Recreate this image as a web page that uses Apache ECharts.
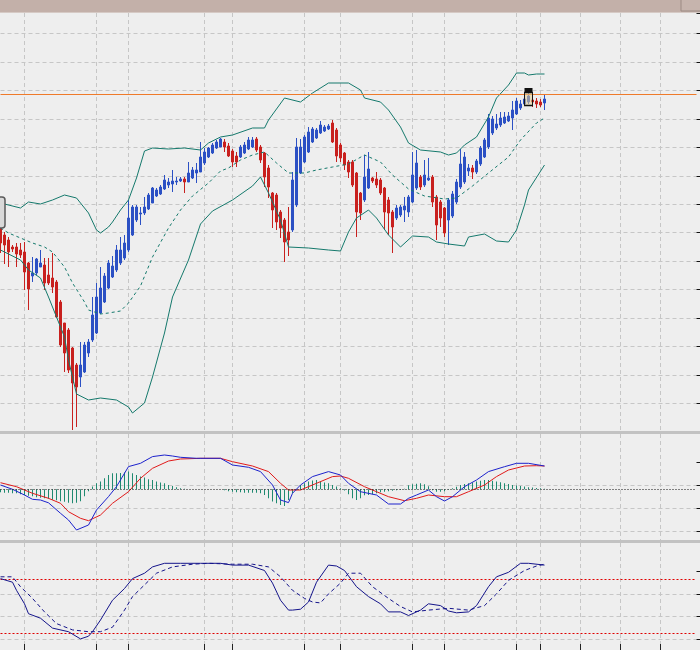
<!DOCTYPE html>
<html><head><meta charset="utf-8">
<script src="https://cdn.jsdelivr.net/npm/echarts@6/dist/echarts.min.js"></script>
<style>html,body{margin:0;padding:0;background:#eeeeee}#c{width:700px;height:650px}</style>
</head><body><div id="c"></div>
<script>
// ---- price candles (137 bars) ----
const openP = [204,197,192,185,185,182,180,169,156,159,
165,167,157,154,150,130,109,102,84,67,
55,60,79,92,99,119,130,144,155,162,
169,174,182,197,212,218,219,223,229,236,
238,243,247,248,250,251,253,250,254,259,
260,269,275,279,284,285,290,286,281,276,
275,279,283,285,293,285,279,264,239,237,
220,212,200,202,227,259,270,280,290,294,
299,301,303,309,302,287,279,270,270,259,
239,232,244,254,253,252,244,232,220,214,
217,222,220,230,244,255,247,252,255,235,
230,224,212,216,230,245,250,261,264,260,
268,275,285,299,304,307,309,311,314,318,
324,328,330,332,331,330,329];
const highP = [208,200,195,187,189,189,190,170,175,174,
182,174,174,179,152,132,109,104,85,69,
90,90,93,135,149,165,159,172,176,187,
195,197,232,227,227,225,235,239,245,244,
247,257,254,262,255,255,255,270,265,269,
290,284,285,289,292,294,293,289,283,280,
287,290,295,295,295,287,280,267,240,239,
222,214,225,260,294,293,297,305,305,304,
311,307,308,312,304,289,280,272,272,260,
240,277,280,255,260,254,245,235,222,227,
227,235,237,280,282,257,272,274,257,237,
232,225,234,241,253,283,280,268,267,273,
286,294,318,316,318,320,320,320,331,334,
332,337,342,337,334,333,338];
const lowP = [179,168,165,180,165,174,142,122,150,157,
165,142,147,139,114,85,60,59,2,5,
45,59,75,90,98,118,129,143,154,160,
167,172,180,196,210,207,217,222,229,235,
237,242,244,240,247,250,239,250,253,249,
260,267,274,278,283,285,280,275,265,265,
274,278,282,284,280,269,245,234,204,202,
194,170,176,200,225,258,269,279,289,293,
298,300,302,289,270,270,262,254,245,195,
212,230,243,249,244,237,202,197,179,212,
215,210,215,229,242,242,245,251,225,192,
205,195,187,214,228,243,248,256,253,258,
266,274,283,297,302,305,308,310,302,317,
322,327,328,325,324,325,322];
const closeP = [189,187,180,183,178,177,160,143,159,173,
169,149,149,145,115,87,79,62,49,45,
67,87,90,117,135,144,156,169,166,182,
182,189,214,225,225,219,225,237,244,242,
245,252,250,251,251,253,250,259,262,262,
275,280,284,287,290,293,285,276,270,270,
285,287,292,292,282,272,255,245,222,210,
204,190,192,252,285,285,295,300,303,302,
307,305,306,290,276,274,267,260,247,220,
219,255,263,251,247,239,220,219,205,224,
225,226,235,257,269,245,257,254,230,207,
214,199,232,238,250,268,275,264,260,271,
284,292,314,313,308,314,315,316,322,331,
328,333,336,330,328,327,333];

// ---- Bollinger bands, sampled [bar, value] ----
const upperBand = [[0,229],[5,224],[7,230],[10,228],[13,232],[16,237],[19,234],[22,219],[24,202],[25,199],[27,205],[28,210],[30,222],[32,232],[34,254],[36,281],[38,284],[42,283],[46,284],[50,282],[52,289],[55,295],[58,297],[63,304],[66,304],[67,312],[71,334],[75,330],[78,339],[82,349],[87,349],[90,342],[91,334],[95,330],[97,322],[100,305],[102,289],[105,282],[110,280],[112,277],[114,279],[116,287],[119,295],[122,315],[124,334],[127,347],[129,359],[131,359],[132,357],[134,358],[136,358]];
const middleBand = [[0,204],[2,199],[5,194],[8,189],[11,185],[13,180],[16,165],[18,149],[21,130],[22,122],[25,118],[27,119],[30,121],[32,129],[35,146],[38,175],[42,204],[45,222],[48,236],[52,249],[55,261],[57,264],[60,272],[63,277],[66,280],[69,269],[72,259],[76,259],[79,262],[83,265],[87,268],[91,277],[95,270],[98,257],[102,243],[106,236],[111,233],[114,234],[118,246],[122,259],[127,275],[130,292],[134,309],[136,314]];
const lowerBand = [[0,182],[5,172],[7,162],[10,154],[12,135],[14,115],[16,95],[17,72],[19,38],[22,32],[25,34],[29,32],[32,25],[33,19],[36,29],[38,55],[41,99],[43,135],[47,172],[50,208],[53,221],[58,232],[63,246],[65,255],[67,239],[70,212],[72,185],[77,184],[82,182],[85,181],[87,200],[89,214],[92,222],[94,214],[97,197],[100,185],[103,196],[107,195],[109,190],[112,188],[116,186],[117,195],[121,198],[124,191],[127,190],[129,202],[131,227],[132,242],[136,267]];
const bidPrice = 338;

// ---- MACD ----
const macdMain = [[0,4.3],[3,0],[6,-5.7],[8,-10],[10,-10.7],[12,-13.5],[15,-24],[17,-30.7],[19,-40.7],[22,-35.7],[24,-20.7],[27,-7.3],[29,2.7],[32,22.7],[35,26],[38,32.7],[41,34.3],[43,33.3],[45,32],[49,31],[55,31],[58,24.3],[62,22],[65,17.7],[68,4.3],[70,-10.7],[72,-13.3],[73,-4],[75,4.3],[78,12.7],[82,17.7],[85,14.3],[87,6],[90,-2.4],[94,-5.7],[97,-14.7],[100,-14.7],[102,-9],[104,-5.7],[107,-0.7],[109,-7.4],[111,-11.7],[113,-7.4],[116,2.6],[119,9.3],[122,17.7],[126,22.6],[129,26],[132,26],[136,23.3]];
const macdSignal = [[0,6.6],[4,2.6],[8,-4],[12,-9],[15,-14],[17,-22.4],[20,-29],[22,-31.4],[25,-25.7],[28,-14],[32,-2.4],[35,11],[38,21],[42,28.3],[45,30.3],[50,31],[55,31],[58,27.6],[63,23.3],[67,17.7],[70,6],[72,-0.7],[75,-0.7],[79,6],[83,12.7],[85,13.3],[87,11],[91,2.6],[94,-2.4],[97,-7.4],[101,-11.4],[104,-9],[107,-5.7],[111,-7.4],[114,-7.4],[117,-2.4],[121,4.3],[124,12.7],[127,19.3],[131,23.3],[134,23.6],[136,23.3]];
const macdHist = [-3,-3.5,-3.5,-4,-4,-5,-6,-6.5,-7,-8,
-8.5,-9,-9.5,-10.5,-11,-12,-12.5,-13.5,-14,-13.5,
-12,-7,-2,2.7,6,7.7,11,14.3,16,16,
16.3,16.7,17.7,16,14.3,12.7,11.7,10,9.3,7.7,
6.7,6,4.3,3.3,2,1,0.5,0,0,0,
0,0,0,0,0,0,-1,-2,-2.5,-3,
-3,-3.5,-3.5,-3.5,-3.5,-4,-5.7,-9,-12.3,-14,
-15.7,-16.7,-10.7,-4,-1,4.3,6,7.7,8.7,9.3,
7.7,6.7,6,4.3,2.7,1,-1.3,-5,-9,-10.7,
-9,-6,-5.7,-5,-4,-3,-2.4,-2,-1.5,-1,
-0.7,0.5,4,5,5.5,6,5,3,-1,-2.4,
-2.4,-2,-0.5,1,2.5,4.3,5.3,6,6.7,7.7,
8.5,9.3,9.3,8.5,7.7,7,6,5.3,4.3,3.7,
3.3,2.7,2,1.7,1.3,1,0.5];

// ---- Stochastic ----
const stochK = [[0,81],[3,77],[4,68],[6,53],[7,42],[10,37],[13,26],[17,22],[20,14],[22,17],[23,22],[25,35],[28,57],[31,70],[33,81],[36,87],[38,94],[41,98],[45,98],[50,98],[55,98],[58,96],[62,96],[66,90],[68,76],[70,57],[72,46],[73,46],[75,47],[77,55],[79,77],[82,96],[84,95],[86,90],[87,84],[89,72],[92,61],[95,53],[97,44],[100,44],[102,40],[105,46],[107,53],[110,51],[112,45],[114,43],[117,44],[119,51],[122,72],[124,83],[127,88],[130,98],[132,98],[136,96]];
const stochD = [[0,83],[3,83],[5,72],[8,59],[11,44],[14,31],[18,24],[22,22],[25,22],[28,27],[31,46],[33,61],[36,74],[39,87],[43,94],[48,97],[52,98],[58,97],[63,97],[67,94],[70,83],[73,68],[76,59],[78,55],[80,54],[82,64],[85,76],[87,87],[90,87],[93,72],[97,59],[100,50],[103,44],[107,46],[112,48],[117,46],[121,51],[124,64],[127,79],[131,90],[134,95],[136,97]];
const stochLevels = [80, 20];

// ---- time grid (bar indices carrying vertical grid lines) ----
const gridBars = [6,24,32,51,58,76,85,103,111,129,135,145,155,165];
const slotCount = 175;
const markerBar = 132, markerTop = 341.5, markerBox = 333;

const cats = Array.from({length: slotCount}, (_, i) => i);
const gridSet = new Set(gridBars);
const isGrid = (i) => gridSet.has(i);
const dashed = {color:'#c6c6c6', type:[4,3], width:1};
const L = 0.5, R = 3.5;
const blue = '#2b50c4', red = '#c8201e', teal = '#15796c';

function catAxis(gi, extra) {
  return Object.assign({
    type:'category', gridIndex:gi, data:cats, boundaryGap:false,
    axisLine:{show:false, onZero:false}, axisTick:{show:false}, axisLabel:{show:false},
    splitLine:{show:true, interval:(i)=>isGrid(i), lineStyle:dashed}
  }, extra || {});
}
function scaleAxis(gi) {
  return {type:'value', gridIndex:gi, position:'right', min:0, max:4, interval:1,
    axisLine:{show:false, onZero:false}, axisLabel:{show:false},
    axisTick:{show:true, length:4, customValues:[0,1,2,3], lineStyle:{color:'#111'}},
    splitLine:{show:true, showMinLine:true, showMaxLine:false, lineStyle:dashed}};
}
const candleData = openP.map((o, i) => [o, closeP[i], lowP[i], highP[i]]);
const lineS = (name, data, xi, yi, color, type, z) => ({
  name, type:'line', data, xAxisIndex:xi, yAxisIndex:yi, showSymbol:false, symbol:'none',
  lineStyle:{color, width:1, type:type||'solid'}, z:z||3, silent:true
});
const levelSeries = stochLevels.map(v => ({
  name:'level ' + v, type:'line', xAxisIndex:3, yAxisIndex:3, silent:true, z:2,
  showSymbol:false, symbol:'none', itemStyle:{color:'#e00000'},
  lineStyle:{color:'#e00000', width:1, type:[2,2]},
  data:[[0, v], [slotCount - 1, v]]
}));

const chart = echarts.init(document.getElementById('c'), null, {renderer:'canvas'});
chart.setOption({
  animation:false,
  backgroundColor:'#eeeeee',
  grid:[
    {left:L, right:R, top:13, height:419},
    {left:L, right:R, top:434, height:106},
    {left:L, right:R, top:439.8, height:91.5},
    {left:L, right:R, top:543, height:107},
    {left:L, right:R, top:548.6, height:90.7}
  ],
  xAxis:[
    catAxis(0),
    catAxis(1),
    {type:'value', gridIndex:2, min:0, max:1, show:false},
    catAxis(3, {axisTick:{show:true, inside:true, length:6, interval:(i)=>isGrid(i), lineStyle:{color:'#222'}}}),
    {type:'value', gridIndex:4, min:0, max:1, show:false}
  ],
  yAxis:[
    {type:'value', gridIndex:0, position:'right', min:0, max:419, interval:28.47,
      axisLine:{show:false, onZero:false}, axisLabel:{show:false},
      axisTick:{show:true, length:4, lineStyle:{color:'#111'}},
      splitLine:{show:true, showMinLine:false, showMaxLine:false, lineStyle:dashed}},
    {type:'value', gridIndex:1, min:-50.7, max:55.3, show:false, splitLine:{show:false}},
    scaleAxis(2),
    {type:'value', gridIndex:3, min:1.67, max:120.56, show:false, splitLine:{show:false}},
    scaleAxis(4)
  ],
  series:[
    {type:'candlestick', name:'price', data:candleData, xAxisIndex:0, yAxisIndex:0, barWidth:2, z:2,
      itemStyle:{color:blue, color0:red, borderColor:blue, borderColor0:red, borderWidth:1},
      markLine:{silent:true, symbol:['none','none'], label:{show:false},
        lineStyle:{color:'#ef7a2a', width:1, type:'solid'}, data:[{yAxis:bidPrice}]},
      markPoint:{silent:true, label:{show:false}, data:[
        {coord:[markerBar, markerBox], symbol:'rect', symbolSize:[8,13],
          itemStyle:{color:'rgba(226,206,150,0.55)', borderColor:'#111', borderWidth:1.2}},
        {coord:[markerBar, markerTop], symbol:'rect', symbolSize:[8,5], itemStyle:{color:'#111'}}
      ]}},
    lineS('upper', upperBand, 0, 0, teal),
    lineS('middle', middleBand, 0, 0, teal, [3,3]),
    lineS('lower', lowerBand, 0, 0, teal),
    {type:'bar', name:'hist', data:macdHist, xAxisIndex:1, yAxisIndex:1, barWidth:1, silent:true,
      itemStyle:{color:'#1f8a70'},
      markLine:{silent:true, symbol:['none','none'], label:{show:false},
        lineStyle:{color:'#111', width:1, type:[1,2]}, data:[{yAxis:0}]}},
    lineS('signal', macdSignal, 1, 1, '#e01a1a'),
    lineS('macd', macdMain, 1, 1, '#1c22cc', 'solid', 4),
    ...levelSeries,
    lineS('%K', stochK, 3, 3, '#14148a'),
    lineS('%D', stochD, 3, 3, '#14148a', [4,3])
  ],
  graphic:[
    {type:'rect', z:100, shape:{x:0, y:0, width:700, height:13}, style:{fill:'#c3b0a9'}},
    {type:'rect', z:101, shape:{x:0, y:12, width:700, height:1}, style:{fill:'#d6cac5'}},
    {type:'rect', z:102, shape:{x:681, y:-3, width:30, height:14}, style:{fill:'#c6b4ad', stroke:'#9b8a83', lineWidth:1}},
    {type:'rect', z:100, shape:{x:0, y:431, width:700, height:3}, style:{fill:'#c2c2c2'}},
    {type:'rect', z:100, shape:{x:0, y:540, width:700, height:3}, style:{fill:'#c2c2c2'}},
    {type:'rect', z:100, shape:{x:-8, y:197, width:13, height:31, r:3}, style:{fill:'#d9d9d9', stroke:'#5a5a5a', lineWidth:1.5}}
  ]
});
</script>
</body></html>
